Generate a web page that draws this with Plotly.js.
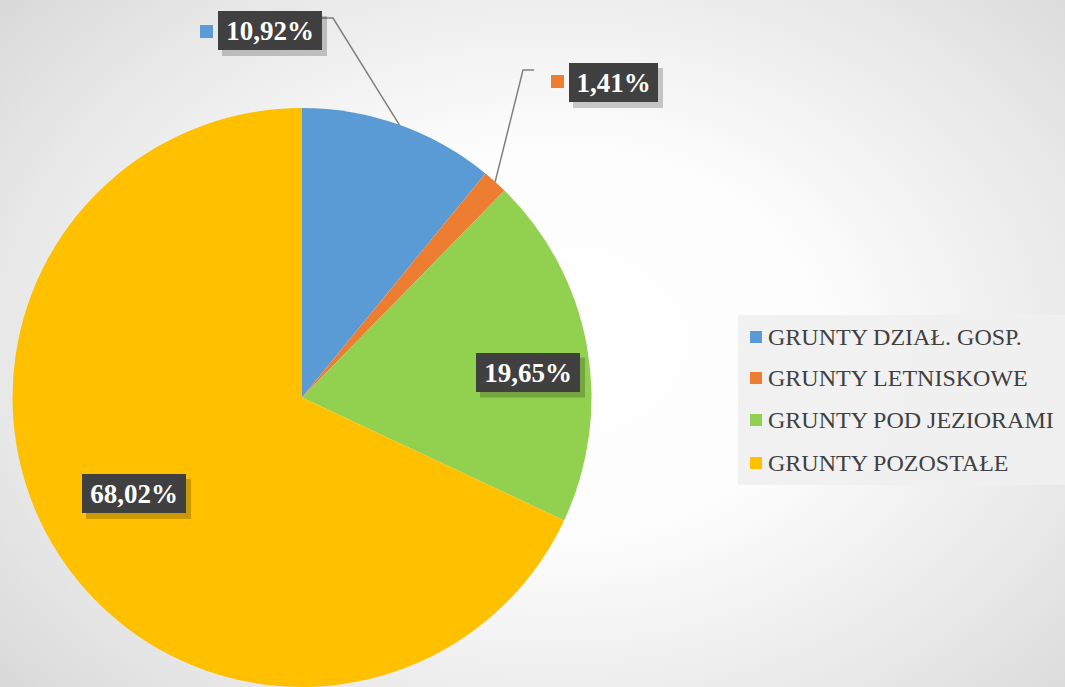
<!DOCTYPE html>
<html>
<head>
<meta charset="utf-8">
<script src="https://cdn.plot.ly/plotly-3.0.1.min.js"></script>
<style>
  html, body { margin: 0; padding: 0; }
  body {
    width: 1065px; height: 687px; overflow: hidden;
    background: radial-gradient(ellipse 75% 85% at 52% 50%, #ffffff 0%, #fcfcfc 35%, #e4e4e4 75%, #d2d2d2 100%);
  }
  #chart { width: 1065px; height: 687px; }
</style>
</head>
<body>
<div id="chart"></div>
<script>
// ---- data ----
const categories = ['GRUNTY DZIAŁ. GOSP.', 'GRUNTY LETNISKOWE', 'GRUNTY POD JEZIORAMI', 'GRUNTY POZOSTAŁE'];
const shares = [10.92, 1.41, 19.65, 68.02];
const shareLabels = ['10,92%', '1,41%', '19,65%', '68,02%'];
const colors = ['#5B9BD5', '#ED7D31', '#92D050', '#FFC000'];

// ---- layout geometry (pixels) ----
const W = 1065, H = 687;
const pieBox = {x0: 12, x1: 592, y0: 108, y1: 687};
const cx = (pieBox.x0 + pieBox.x1) / 2;
const cy = (pieBox.y0 + pieBox.y1) / 2;
const R = Math.min(pieBox.x1 - pieBox.x0, pieBox.y1 - pieBox.y0) / 2;

const px = x => x / W;
const py = y => 1 - y / H;

const serif = '"Liberation Serif", "Times New Roman", Times, serif';

// label boxes: centre (pixels) and size
const labelBoxes = [
  {x: 270, y: 30.5, w: 104, h: 39, outside: true, elbow: [333, 18], end: [322, 18], key: [200, 25]},
  {x: 613.5, y: 82.5, w: 89, h: 39, outside: true, elbow: [523, 70], end: [534, 70], key: [551, 75]},
  {x: 528, y: 372, w: 104, h: 39, outside: false},
  {x: 134, y: 493.5, w: 104, h: 39, outside: false}
];

const total = shares.reduce((a, b) => a + b, 0);
const shapes = [];
const annotations = [];

let cum = 0;
shares.forEach((v, i) => {
  const mid = (cum + v / 2) / total * 2 * Math.PI;
  cum += v;
  const lb = labelBoxes[i];
  if (lb.outside) {
    const ex = cx + R * Math.sin(mid), ey = cy - R * Math.cos(mid);
    shapes.push({
      type: 'path', xref: 'paper', yref: 'paper', layer: 'above',
      path: `M ${px(ex)} ${py(ey)} L ${px(lb.elbow[0])} ${py(lb.elbow[1])} L ${px(lb.end[0])} ${py(lb.end[1])}`,
      line: {color: '#808080', width: 1.5}
    });
    shapes.push({
      type: 'rect', xref: 'paper', yref: 'paper', layer: 'above',
      x0: px(lb.key[0]), x1: px(lb.key[0] + 13), y0: py(lb.key[1]), y1: py(lb.key[1] + 13),
      fillcolor: colors[i], line: {width: 0}
    });
  }
  shapes.push({
    type: 'rect', xref: 'paper', yref: 'paper', layer: 'above',
    x0: px(lb.x - lb.w / 2 + 4), x1: px(lb.x + lb.w / 2 + 5),
    y0: py(lb.y - lb.h / 2 + 5), y1: py(lb.y + lb.h / 2 + 6),
    fillcolor: 'rgba(0,0,0,0.2)', line: {width: 0}
  });
  annotations.push({
    xref: 'paper', yref: 'paper', x: px(lb.x), y: py(lb.y),
    xanchor: 'center', yanchor: 'middle', showarrow: false,
    text: '<b>' + shareLabels[i] + '</b>', width: lb.w, height: lb.h, borderpad: 0, borderwidth: 0,
    align: 'center', valign: 'middle',
    bgcolor: '#404040',
    font: {family: serif, size: 27, color: '#ffffff'}
  });
});

// ---- manual legend ----
const legend = {x0: 738, x1: 1065, y0: 315, y1: 485, keyX: 750, textX: 766, rows: [337, 378, 420, 463]};
shapes.push({
  type: 'rect', xref: 'paper', yref: 'paper', layer: 'above',
  x0: px(legend.x0), x1: px(legend.x1), y0: py(legend.y0), y1: py(legend.y1),
  fillcolor: 'rgba(240,240,240,0.9)', line: {width: 0}
});
categories.forEach((c, i) => {
  const ry = legend.rows[i];
  shapes.push({
    type: 'rect', xref: 'paper', yref: 'paper', layer: 'above',
    x0: px(legend.keyX), x1: px(legend.keyX + 12), y0: py(ry - 6), y1: py(ry + 6),
    fillcolor: colors[i], line: {width: 0}
  });
  annotations.push({
    xref: 'paper', yref: 'paper', x: px(legend.textX), y: py(ry),
    xanchor: 'left', yanchor: 'middle', showarrow: false, text: c,
    font: {family: serif, size: 24, color: '#404040'}
  });
});

const trace = {
  type: 'pie',
  labels: categories,
  values: shares,
  sort: false,
  direction: 'clockwise',
  rotation: 0,
  textinfo: 'none',
  hoverinfo: 'label+percent',
  marker: {colors: colors, line: {color: 'rgba(0,0,0,0)', width: 0}},
  domain: {x: [px(pieBox.x0), px(pieBox.x1)], y: [py(pieBox.y1), py(pieBox.y0)]}
};

const layout = {
  width: W, height: H,
  margin: {l: 0, r: 0, t: 0, b: 0},
  paper_bgcolor: 'rgba(0,0,0,0)',
  plot_bgcolor: 'rgba(0,0,0,0)',
  showlegend: false,
  shapes: shapes,
  annotations: annotations
};

Plotly.newPlot('chart', [trace], layout, {displayModeBar: false, staticPlot: true});
</script>
</body>
</html>
